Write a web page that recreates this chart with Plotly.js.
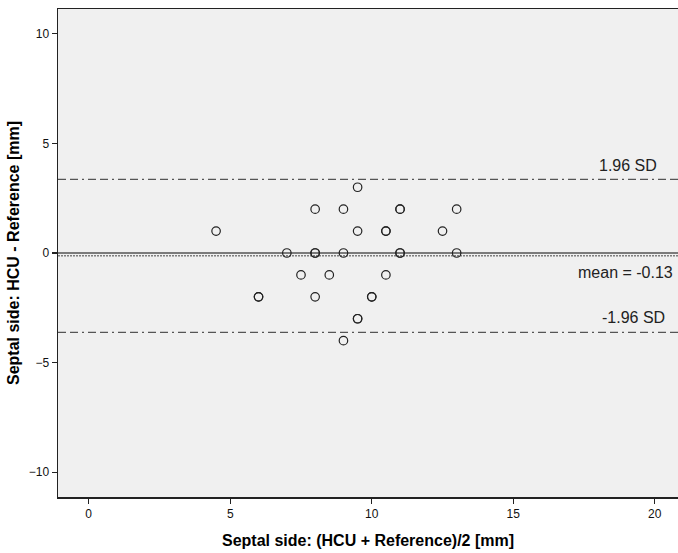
<!DOCTYPE html>
<html>
<head>
<meta charset="utf-8">
<script src="https://cdn.plot.ly/plotly-3.0.1.min.js"></script>
<style>html,body{margin:0;padding:0;background:#fff;}#chart{width:678px;height:553px;}</style>
</head>
<body>
<div id="chart"></div>
<script>
// Septal side: mean of (HCU + Reference)/2 [mm]
const avgValues = [9.5, 8, 9, 11, 11, 13, 4.5, 9.5, 10.5, 10.5, 12.5, 7, 8, 8, 9, 11, 11, 13, 7.5, 8.5, 10.5, 6, 6, 8, 10, 10, 9.5, 9.5, 9];
// Septal side: HCU - Reference [mm]
const diffValues = [3, 2, 2, 2, 2, 2, 1, 1, 1, 1, 1, 0, 0, 0, 0, 0, 0, 0, -1, -1, -1, -2, -2, -2, -2, -2, -3, -3, -4];
const meanDiff = -0.13;
const upperLoA = 3.36;
const lowerLoA = -3.62;
const xTicks = [0, 5, 10, 15, 20];
const yTicks = [-10, -5, 0, 5, 10];

const xr = [-1.085, 20.82];
const font = 'Liberation Sans, Arial, sans-serif';

const traces = [
  {x: xr, y: [0, 0], mode: 'lines', line: {color: '#555', width: 1.5}, hoverinfo: 'skip'},
  {x: xr, y: [meanDiff, meanDiff], mode: 'lines', line: {color: '#444', width: 1, dash: '2px,1px'}, hoverinfo: 'skip'},
  {x: xr, y: [upperLoA, upperLoA], mode: 'lines', line: {color: '#555', width: 1.3, dash: '8px,4px,8px,4px,2px,4px'}, hoverinfo: 'skip'},
  {x: xr, y: [lowerLoA, lowerLoA], mode: 'lines', line: {color: '#555', width: 1.3, dash: '8px,4px,8px,4px,2px,4px'}, hoverinfo: 'skip'},
  {x: avgValues, y: diffValues, mode: 'markers', type: 'scatter',
   marker: {symbol: 'circle-open', size: 8.5, color: '#222', line: {width: 1.2, color: '#222'}}}
];

const layout = {
  width: 678, height: 553,
  margin: {l: 58, r: 0, t: 9, b: 56},
  paper_bgcolor: '#ffffff',
  plot_bgcolor: '#f0f0f0',
  showlegend: false,
  font: {family: font, size: 12, color: '#111'},
  xaxis: {
    range: xr, tickvals: xTicks, ticks: 'outside', ticklen: 5, tickwidth: 1.3, tickcolor: '#222',
    showgrid: false, zeroline: false, showline: true, linecolor: '#222', linewidth: 1.5, mirror: true,
    tickfont: {family: font, size: 12, color: '#111'},
    title: {text: 'Septal side: (HCU + Reference)/2 [mm]', font: {family: font, size: 16, color: '#000', weight: 'bold'}, standoff: 15}
  },
  yaxis: {
    range: [-11.13, 11.13], tickvals: yTicks, ticks: 'outside', ticklen: 5, tickwidth: 1.3, tickcolor: '#222',
    showgrid: false, zeroline: false, showline: true, linecolor: '#222', linewidth: 1.5, mirror: false,
    tickfont: {family: font, size: 12, color: '#111'},
    title: {text: 'Septal side: HCU - Reference [mm]', font: {family: font, size: 16, color: '#000', weight: 'bold'}, standoff: 5}
  },
  annotations: [
    {xref: 'paper', yref: 'y', x: (659 - 58) / 620, y: 4.01, xanchor: 'right', yanchor: 'middle', showarrow: false,
     text: '1.96 SD', font: {family: font, size: 16, color: '#222'}},
    {xref: 'paper', yref: 'y', x: (675 - 58) / 620, y: -0.91, xanchor: 'right', yanchor: 'middle', showarrow: false,
     text: 'mean = ' + meanDiff.toFixed(2), font: {family: font, size: 16, color: '#222'}},
    {xref: 'paper', yref: 'y', x: (667 - 58) / 620, y: -2.96, xanchor: 'right', yanchor: 'middle', showarrow: false,
     text: '-1.96 SD', font: {family: font, size: 16, color: '#222'}}
  ]
};

Plotly.newPlot('chart', traces, layout, {displayModeBar: false, staticPlot: true});
</script>
</body>
</html>
